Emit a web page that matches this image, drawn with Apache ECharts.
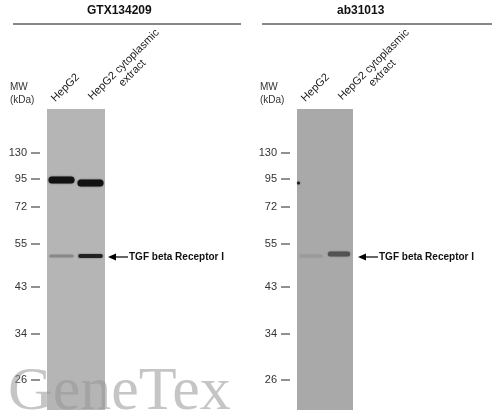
<!DOCTYPE html>
<html><head><meta charset="utf-8">
<script src="https://cdn.jsdelivr.net/npm/echarts@6/dist/echarts.min.js"></script>
<style>html,body{margin:0;background:#fff}#main{width:497px;height:416px}</style>
</head><body><div id="main"></div>
<script>
var chart = echarts.init(document.getElementById('main'));

// marker ladder: label and migration (px-like units from gel top)
var markerLabels = ['130', '95', '72', '55', '43', '34', '26'];
var markerPos = [44, 70, 98, 135, 178, 225, 271];
var lanes = ['HepG2', 'HepG2 cytoplasmic\nextract'];
var panels = ['GTX134209', 'ab31013'];
// bands: [lane, position, darkness 0-1, thickness, width in lanes]
var bandsLeft = [[0, 71, 0.95, 7, 0.9], [1, 74, 0.95, 7, 0.9], [0, 147, 0.2, 3, 0.85], [1, 147, 0.85, 4, 0.85]];
var bandsRight = [[0, 147, 0.1, 3, 0.85], [1, 145, 0.55, 5, 0.8], [0, 74, 0.9, 3, 0.08]];

function gelSeries(idx, bands, shade) {
  return [{
    type: 'custom', xAxisIndex: idx, yAxisIndex: idx, silent: true,
    data: [[0, 0]],
    renderItem: function (params, api) {
      var cs = params.coordSys;
      return { type: 'rect', shape: { x: cs.x, y: cs.y, width: cs.width, height: cs.height }, style: { fill: shade } };
    }
  }, {
    type: 'custom', xAxisIndex: idx, yAxisIndex: idx, silent: true,
    data: bands,
    renderItem: function (params, api) {
      var w = api.value(4);
      var x0 = api.coord([api.value(0) + (1 - w) / 2, api.value(1)]);
      var x1 = api.coord([api.value(0) + (1 + w) / 2, api.value(1)]);
      if (w < 0.2) { x0 = api.coord([0, api.value(1)]); x1 = api.coord([w, api.value(1)]); }
      var d = api.value(2), h = api.value(3);
      var g = Math.round(170 - 160 * d);
      return {
        type: 'rect',
        shape: { x: x0[0], y: x0[1] - h / 2, width: Math.max(3, x1[0] - x0[0]), height: h, r: h / 2 },
        style: { fill: 'rgb(' + g + ',' + g + ',' + g + ')', shadowBlur: 2, shadowColor: 'rgba(0,0,0,' + d * 0.5 + ')' }
      };
    }
  }, {
    type: 'custom', xAxisIndex: idx, yAxisIndex: idx, silent: true,
    data: markerPos.map(function (p, i) { return [0, p, i]; }),
    renderItem: function (params, api) {
      var pt = api.coord([0, api.value(1)]);
      var x = params.coordSys.x;
      return {
        type: 'group', children: [
          { type: 'line', shape: { x1: x - 16, y1: pt[1], x2: x - 7, y2: pt[1] }, style: { stroke: '#222', lineWidth: 1 } },
          { type: 'text', style: { text: markerLabels[api.value(2)], x: x - 20, y: pt[1], align: 'right', verticalAlign: 'middle', fill: '#333', font: '11px Arial' } }
        ]
      };
    }
  }];
}

var yAx = { type: 'value', min: 0, max: 301, inverse: true, show: false };
var xAx = { type: 'value', min: 0, max: 2, show: false };

var graphics = [];
var panelX = [[13, 241, 127, 47, 76], [262, 492, 377, 297, 326]];
panels.forEach(function (name, i) {
  var p = panelX[i];
  graphics.push({ type: 'text', left: p[2] - 40, top: 5, style: { text: name, width: 80, align: 'center', font: 'bold 12px Arial', fill: '#111' } });
  graphics.push({ type: 'line', shape: { x1: p[0], y1: 24, x2: p[1], y2: 24 }, style: { stroke: '#111', lineWidth: 1 } });
  graphics.push({ type: 'text', x: p[3] - 37, y: 107, style: { text: 'MW\n(kDa)', font: '10px Arial', fill: '#333', lineHeight: 13, verticalAlign: 'bottom' } });
  graphics.push({ type: 'text', x: p[3] + 10, y: 104, rotation: Math.PI / 4,
    style: { text: lanes[0], font: '11px Arial', fill: '#222', align: 'left', verticalAlign: 'bottom' } });
  graphics.push({ type: 'text', x: p[3] + 81, y: 69, rotation: Math.PI / 4,
    style: { text: lanes[1], font: '11px Arial', fill: '#222', align: 'center', verticalAlign: 'middle', lineHeight: 12 } });
  graphics.push({ type: 'line', shape: { x1: p[4] + 34, y1: 257, x2: p[4] + 52, y2: 257 }, style: { stroke: '#000', lineWidth: 1.2 } });
  graphics.push({ type: 'polygon', shape: { points: [[p[4] + 32, 257], [p[4] + 40, 253.5], [p[4] + 40, 260.5]] }, style: { fill: '#000' } });
  graphics.push({ type: 'text', x: p[4] + 53, y: 257, style: { text: 'TGF beta Receptor I', font: 'bold 10px Arial', fill: '#111', verticalAlign: 'middle' } });
});
graphics.push({ type: 'text', x: 8, y: 362, z: 100, style: { text: 'GeneTex', font: '62px "Liberation Serif", "DejaVu Serif", serif', fill: 'rgba(150,150,150,0.55)' } });

chart.setOption({
  animation: false,
  grid: [
    { left: 47, width: 58, top: 109, height: 301 },
    { left: 297, width: 56, top: 109, height: 301 }
  ],
  xAxis: [Object.assign({ gridIndex: 0 }, xAx), Object.assign({ gridIndex: 1 }, xAx)],
  yAxis: [Object.assign({ gridIndex: 0 }, yAx), Object.assign({ gridIndex: 1 }, yAx)],
  series: gelSeries(0, bandsLeft, '#b5b5b5').concat(gelSeries(1, bandsRight, '#a9a9a9')),
  graphic: graphics
});
</script></body></html>
